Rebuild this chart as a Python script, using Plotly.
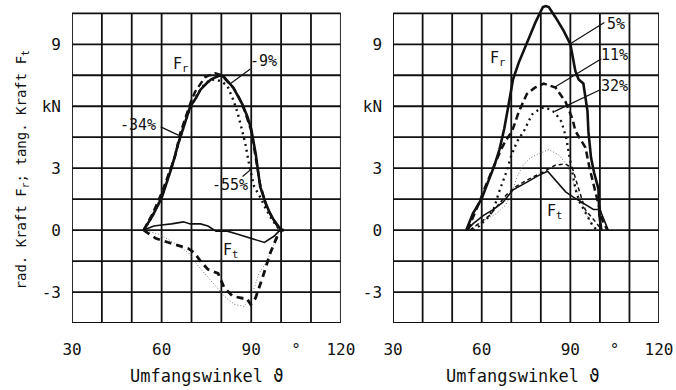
import plotly.graph_objects as go

# ---------------- data (angle in degrees, force in kN) ----------------
# left panel
L_FR_SOLID_X = [54, 57, 60, 61.3, 63.5, 65.6, 67.5, 69.6, 71.5, 73, 75, 76.6, 78, 79.7, 81, 82.2, 84, 85.5, 87, 88.7, 90, 91.5, 93, 94.6, 96, 97.5, 99.4, 100]
L_FR_SOLID_Y = [0, 0.7, 1.55, 2.1, 3.1, 4.2, 5.1, 6.0, 6.4, 6.8, 7.1, 7.3, 7.4, 7.5, 7.4, 7.2, 6.9, 6.5, 6.1, 5.5, 4.9, 3.7, 2.1, 1.4, 0.9, 0.5, 0.1, 0]
L_FR_DASH_X = [54, 57, 60, 62.5, 64.6, 66, 68, 70, 71.2, 73, 74.5, 76, 78, 80, 82, 84, 86, 88, 90, 91.5, 93, 95, 97, 99, 100.5]
L_FR_DASH_Y = [0, 0.8, 1.8, 2.8, 3.6, 4.6, 5.5, 6.3, 6.7, 7.1, 7.4, 7.5, 7.6, 7.5, 7.2, 6.9, 6.4, 5.7, 4.8, 3.6, 2.2, 1.2, 0.6, 0.15, 0]
L_FR_DOT_X = [54, 57, 60, 63, 66, 69, 72, 74, 76, 78, 80, 82, 84, 85.4, 87, 88, 89.4, 91, 93, 95, 97, 99.5]
L_FR_DOT_Y = [0, 0.7, 1.6, 2.9, 4.4, 5.7, 6.6, 7.0, 7.25, 7.3, 7.2, 7.0, 6.3, 5.7, 4.8, 4.2, 3.1, 2.1, 1.6, 1.0, 0.5, 0]
L_FT_SOLID_X = [54, 57.4, 60, 63.3, 67.3, 69.6, 73, 75.5, 78.2, 82, 85.5, 89.8, 94.4, 97.6, 99.6]
L_FT_SOLID_Y = [0, 0.2, 0.25, 0.3, 0.4, 0.3, 0.3, 0.2, -0.05, -0.05, -0.2, -0.4, -0.6, -0.3, 0]
L_FT_DASH_X = [54, 58, 62.3, 66, 69, 71, 73, 75.5, 78.9, 81, 83.8, 87, 88.5, 89.8, 91.4, 93.8, 96.4, 98.7, 100.3, 101]
L_FT_DASH_Y = [0, -0.4, -0.6, -0.75, -0.9, -1.1, -1.5, -1.9, -2.1, -2.8, -3.2, -3.3, -3.3, -3.6, -3.3, -2.3, -1.1, -0.3, 0, 0]
L_FT_DOT_X = [54, 59, 64, 69, 72, 75.5, 78, 81, 84.4, 87.6, 90.3, 92.6, 95.3, 98, 99.6]
L_FT_DOT_Y = [0, -0.2, -0.6, -1.1, -1.7, -2.3, -2.7, -3.2, -3.6, -3.7, -3.1, -2.1, -1.5, -0.5, 0]

# right panel
R_FR_SOLID_X = [54.8, 57, 59.9, 62, 64.2, 66, 67.6, 69, 70.6, 72.5, 75, 77, 78.3, 80, 80.7, 81.7, 82.7, 85, 87.7, 90, 91, 91.7, 92.8, 94.4, 95.8, 96.1, 97, 98, 99.5, 99.8, 100.5]
R_FR_SOLID_Y = [0, 0.8, 1.5, 2.3, 3.1, 3.9, 4.9, 6.0, 7.3, 8.1, 9.0, 9.7, 10.1, 10.6, 10.8, 10.85, 10.8, 10.3, 9.66, 9.0, 8.3, 7.7, 7.3, 7.1, 5.75, 4.78, 3.5, 2.8, 2.0, 0.73, 0]
R_FR_DASH_X = [55.2, 57, 59.2, 61.2, 63, 64.6, 66.5, 68, 70.3, 72.6, 75.3, 78, 81, 83, 85, 88.4, 90.7, 91.7, 93, 95.1, 96.5, 98.3, 100.8, 102.5]
R_FR_DASH_Y = [0, 0.6, 1.35, 2.1, 2.7, 3.3, 3.9, 4.3, 4.8, 5.75, 6.6, 6.9, 7.1, 7.0, 6.9, 6.2, 5.4, 4.8, 4.5, 4.0, 3.0, 2.0, 0.5, 0]
R_FR_DOT_X = [57, 59.2, 62, 64, 66, 68.3, 70, 72, 74.3, 77, 79, 81, 83, 84.7, 87, 88.7, 89.4, 90.5, 91.7, 93, 95, 97.4, 99]
R_FR_DOT_Y = [0, 0.2, 0.6, 1.0, 1.9, 2.8, 3.6, 4.3, 4.8, 5.6, 5.8, 5.95, 5.85, 5.7, 5.25, 4.4, 3.8, 2.9, 2.0, 1.4, 0.9, 0.25, 0]
R_FT_SOLID_X = [55, 57, 60.5, 64, 67.2, 70.6, 75, 79.3, 82.3, 85, 88.4, 91, 94, 97.8, 100, 101.8, 102.8]
R_FT_SOLID_Y = [0, 0.3, 0.7, 1.0, 1.35, 1.95, 2.3, 2.65, 2.85, 2.4, 1.85, 1.6, 1.35, 1.0, 1.0, 0.4, 0]
R_FT_DOT_X = [56, 60, 65, 68, 70, 72, 74, 76.5, 79.3, 82.7, 86, 89, 91, 94, 97.4, 99]
R_FT_DOT_Y = [0, 0.4, 0.8, 1.2, 1.7, 2.6, 3.15, 3.5, 3.7, 3.9, 3.65, 3.15, 2.3, 1.2, 0.25, 0]
R_FT_DASH_X = [56, 59, 62.6, 65.5, 68.3, 71.5, 75, 80.6, 85, 88.4, 90.7, 92.8, 95, 98.5, 100.7]
R_FT_DASH_Y = [0, 0.3, 0.7, 1.2, 1.7, 2.1, 2.4, 2.8, 3.15, 3.2, 3.0, 2.0, 1.0, 0.4, 0]

X_TICKS = [30, 60, 90, 105, 120]
X_TICKTEXT = ["30", "60", "90", "°", "120"]
Y_TICKS = [-3, 0, 3, 6, 9]
Y_TICKTEXT = ["-3", "0", "3", "kN", "9"]
GRID_X = [30, 40, 50, 60, 70, 80, 90, 100, 110, 120]
GRID_Y = [-4.5, -3, -1.5, 0, 1.5, 3, 4.5, 6, 7.5, 9, 10.5]

FONT = "DejaVu Sans Mono, Liberation Mono, monospace"
BLACK = "#111111"

fig = go.Figure()


def add(x, y, axis, width, dash="solid", color=BLACK):
    fig.add_trace(go.Scatter(
        x=x, y=y, mode="lines", xaxis="x" + axis, yaxis="y" + axis,
        line=dict(color=color, width=width, dash=dash),
        showlegend=False, hoverinfo="skip"))


# left panel
add(L_FT_DOT_X, L_FT_DOT_Y, "", 1.0, "1px,2px", "#777777")
add(L_FT_SOLID_X, L_FT_SOLID_Y, "", 1.6)
add(L_FT_DASH_X, L_FT_DASH_Y, "", 2.8, "7px,5px")
add(L_FR_DOT_X, L_FR_DOT_Y, "", 2.4, "2px,4px")
add(L_FR_DASH_X, L_FR_DASH_Y, "", 2.4, "7px,4px")
add(L_FR_SOLID_X, L_FR_SOLID_Y, "", 2.6)
# right panel
add(R_FT_DOT_X, R_FT_DOT_Y, "2", 1.0, "1px,2px", "#777777")
add(R_FT_DASH_X, R_FT_DASH_Y, "2", 1.5, "4px,3px")
add(R_FT_SOLID_X, R_FT_SOLID_Y, "2", 1.6)
add(R_FR_DOT_X, R_FR_DOT_Y, "2", 2.3, "2px,4px")
add(R_FR_DASH_X, R_FR_DASH_Y, "2", 2.5, "7px,4px")
add(R_FR_SOLID_X, R_FR_SOLID_Y, "2", 2.6)

# grid drawn as shapes (so the 5% curve may rise above the frame)
shapes = []
for ax in ["", "2"]:
    for gx in GRID_X:
        shapes.append(dict(type="line", xref="x" + ax, yref="y" + ax, x0=gx, x1=gx,
                           y0=GRID_Y[0], y1=GRID_Y[-1], layer="below",
                           line=dict(color=BLACK, width=1.8)))
    for gy in GRID_Y:
        shapes.append(dict(type="line", xref="x" + ax, yref="y" + ax, x0=GRID_X[0], x1=GRID_X[-1],
                           y0=gy, y1=gy, layer="below",
                           line=dict(color=BLACK, width=1.8)))

# leader lines for the percentage labels
LEADERS = [
    ("", 89.7, 7.8, 83.1, 7.1),
    ("", 59.7, 5.0, 65.6, 4.6),
    ("", 87.1, 2.6, 90.4, 3.0),
    ("2", 101.5, 10.05, 89.7, 9.0),
    ("2", 100.5, 8.3, 84.4, 6.9),
    ("2", 100.1, 6.8, 84.7, 5.75),
]
for ax, x0, y0, x1, y1 in LEADERS:
    shapes.append(dict(type="line", xref="x" + ax, yref="y" + ax, x0=x0, y0=y0, x1=x1, y1=y1,
                       line=dict(color=BLACK, width=1.2)))

ann = []
LABELS = [
    ("", 66.3, 8.0, "F<sub>r</sub>"),
    ("", 94.0, 8.2, "-9%"),
    ("", 52.0, 5.1, "-34%"),
    ("", 83.0, 2.2, "-55%"),
    ("", 83.1, -1.0, "F<sub>t</sub>"),
    ("2", 65.2, 8.3, "F<sub>r</sub>"),
    ("2", 105.3, 10.0, "5%"),
    ("2", 104.8, 8.5, "11%"),
    ("2", 104.8, 7.0, "32%"),
    ("2", 84.7, 0.9, "F<sub>t</sub>"),
]
for ax, x, y, t in LABELS:
    ann.append(dict(xref="x" + ax, yref="y" + ax, x=x, y=y, text=t, showarrow=False,
                    xanchor="center", yanchor="middle",
                    font=dict(family=FONT, size=15, color=BLACK)))

ann.append(dict(xref="paper", yref="paper", x=0.23, y=-0.165, text="Umfangswinkel ϑ",
                xanchor="center", yanchor="middle",
                showarrow=False, font=dict(family=FONT, size=17, color=BLACK)))
ann.append(dict(xref="paper", yref="paper", x=0.768, y=-0.165, text="Umfangswinkel ϑ",
                xanchor="center", yanchor="middle",
                showarrow=False, font=dict(family=FONT, size=17, color=BLACK)))
ann.append(dict(xref="paper", yref="paper", x=-0.0845, y=0.478, textangle=-90,
                xanchor="center", yanchor="middle",
                text="rad. Kraft F<sub>r</sub>; tang. Kraft F<sub>t</sub>",
                showarrow=False, font=dict(family=FONT, size=14, color=BLACK)))

xcommon = dict(range=[30, 120], tickvals=X_TICKS, ticktext=X_TICKTEXT, showgrid=False,
               zeroline=False, showline=False, ticks="", ticklabelstandoff=15,
               tickfont=dict(family=FONT, size=16, color=BLACK), fixedrange=True)
ycommon = dict(range=[-4.5, 11.0], tickvals=Y_TICKS, ticktext=Y_TICKTEXT, showgrid=False,
               zeroline=False, showline=False, ticks="", ticklabelstandoff=10,
               tickfont=dict(family=FONT, size=16, color=BLACK), fixedrange=True)

fig.update_layout(
    width=676, height=390,
    margin=dict(l=72, r=12, t=3, b=67),
    paper_bgcolor="white", plot_bgcolor="white",
    xaxis=dict(domain=[0, 0.458], anchor="y", **xcommon),
    yaxis=dict(domain=[0, 1], anchor="x", **ycommon),
    xaxis2=dict(domain=[0.547, 1.0], anchor="y2", **xcommon),
    yaxis2=dict(domain=[0, 1], anchor="x2", **ycommon),
    shapes=shapes, annotations=ann,
    font=dict(family=FONT, color=BLACK),
)

fig.write_html("out.html")
